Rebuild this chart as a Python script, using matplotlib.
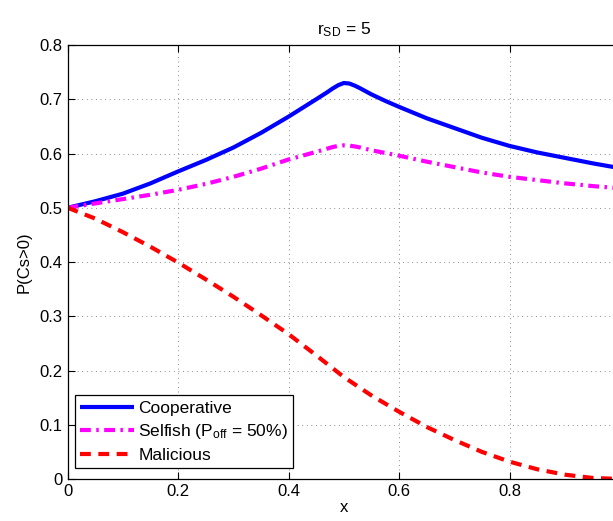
import matplotlib
matplotlib.use("Agg")
import matplotlib.pyplot as plt

plt.rcParams["font.family"] = ["Liberation Sans", "DejaVu Sans"]
plt.rcParams["mathtext.default"] = "regular"

# valores
x = [0.0, 0.05, 0.1, 0.15, 0.2, 0.25, 0.3, 0.35, 0.4, 0.45, 0.47, 0.48, 0.49, 0.5,
     0.51, 0.52, 0.53, 0.55, 0.575, 0.6, 0.65, 0.7, 0.75, 0.8, 0.85, 0.9, 0.95, 1.0]
cooperativo = [0.500, 0.512, 0.526, 0.545, 0.567, 0.588, 0.611, 0.638, 0.668, 0.700, 0.713, 0.720,
               0.726, 0.730, 0.729, 0.725, 0.720, 0.709, 0.697, 0.686, 0.665, 0.647, 0.629, 0.614,
               0.602, 0.592, 0.582, 0.573]
egoista = [0.500, 0.508, 0.516, 0.524, 0.533, 0.544, 0.557, 0.572, 0.589, 0.603, 0.609, 0.612,
           0.614, 0.615, 0.6145, 0.613, 0.611, 0.606, 0.601, 0.596, 0.585, 0.575, 0.565, 0.557,
           0.551, 0.545, 0.540, 0.536]
x_mal = [0.0, 0.05, 0.1, 0.15, 0.2, 0.25, 0.3, 0.35, 0.4, 0.45, 0.5,
         0.55, 0.6, 0.65, 0.7, 0.75, 0.8, 0.85, 0.9, 0.95, 1.0]
malicioso = [0.500, 0.480, 0.455, 0.428, 0.399, 0.368, 0.336, 0.302, 0.267, 0.228, 0.188,
             0.154, 0.124, 0.096, 0.072, 0.050, 0.032, 0.018, 0.008, 0.002, 0.000]

fig = plt.figure(figsize=(6.13, 5.21), dpi=100)
ax = fig.add_axes([0.1104, 0.0806, 0.901, 0.833])

ax.plot(x, cooperativo, color="blue", linewidth=3.0, label="Cooperative",
        solid_capstyle="butt", solid_joinstyle="round")
ax.plot(x, egoista, color="magenta", linewidth=3.0, dashes=(2.6, 1.3, 0.6, 1.3),
        dash_capstyle="butt", label="Selfish (P$_{off}$ = 50%)")
ax.plot(x_mal, malicioso, color="red", linewidth=3.0, dashes=(2.6, 1.8),
        dash_capstyle="butt", label="Malicious")

ax.set_xlim(0, 1)
ax.set_ylim(0, 0.8)
ax.set_xticks([0, 0.2, 0.4, 0.6, 0.8, 1.0])
# o rótulo "1" fica fora da imagem na referência
ax.set_xticklabels(["0", "0.2", "0.4", "0.6", "0.8", ""])
ax.set_yticks([0, 0.1, 0.2, 0.3, 0.4, 0.5, 0.6, 0.7, 0.8])
ax.set_yticklabels(["0", "0.1", "0.2", "0.3", "0.4", "0.5", "0.6", "0.7", "0.8"])
ax.tick_params(direction="in", top=True, right=True, labelsize=12, length=5, width=0.8)
ax.grid(True, color="#666666", linestyle=(0, (1, 4.5)), linewidth=0.6)
for s in ax.spines.values():
    s.set_linewidth(0.9)

ax.set_title("r$_{SD}$ = 5", fontsize=12.5, pad=8)
ax.set_xlabel("x", fontsize=12, labelpad=1)
ax.set_ylabel("P(Cs>0)", fontsize=12, labelpad=6)

leg = ax.legend(loc="lower left", bbox_to_anchor=(0.013, 0.025), borderaxespad=0,
                fontsize=12.5, fancybox=False, framealpha=1, edgecolor="black",
                handlelength=3.1, handletextpad=0.25, labelspacing=0.38,
                borderpad=0.3)
leg.get_frame().set_linewidth(0.9)

fig.savefig("out.png", dpi=100)
plt.close()
